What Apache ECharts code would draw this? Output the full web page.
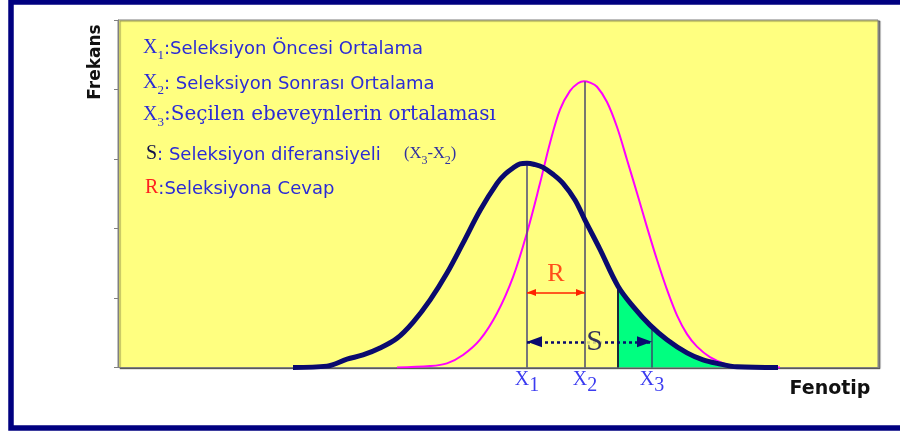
<!DOCTYPE html>
<html>
<head>
<meta charset="utf-8">
<script src="https://cdn.jsdelivr.net/npm/echarts@6/dist/echarts.min.js"></script>
<style>
html, body { margin: 0; padding: 0; background: #fff; }
#chart { width: 900px; height: 434px; }
</style>
</head>
<body>
<div id="chart"></div>
<script>
// secilim oncesi dagilim (lacivert egri)
var navyX = [17.5, 20.9, 22.9, 24.5, 26.2, 27.9, 29.5, 31.2, 32.9, 34.5, 36.2, 37.9, 38.7, 39.5, 40.2, 40.9,
             41.7, 42.5, 43.5, 44.5, 45.7, 46.7, 48.2, 50.0, 51.5, 53.2, 54.9, 56.9, 58.5, 59.9, 61.9, 66.0];
var navyY = [0, 0.02, 0.12, 0.18, 0.28, 0.42, 0.65, 0.97, 1.36, 1.79, 2.26, 2.65, 2.78, 2.87, 2.93, 2.94,
             2.92, 2.88, 2.78, 2.65, 2.41, 2.12, 1.70, 1.17, 0.88, 0.61, 0.40, 0.21, 0.11, 0.06, 0.01, 0];
// secilim sonrasi dagilim (pembe egri)
var pinkX = [27.9, 31.2, 32.9, 34.5, 36.2, 37.9, 39.5, 40.9, 42.2, 43.2, 44.2, 45.2, 46.0, 46.6,
             47.2, 47.9, 48.9, 49.9, 50.9, 51.9, 52.9, 53.9, 54.9, 55.9, 56.9, 57.9, 59.2, 60.9, 62.2, 66.2];
var pinkY = [0, 0.02, 0.06, 0.18, 0.40, 0.78, 1.30, 1.94, 2.65, 3.23, 3.71, 3.98, 4.09, 4.12,
             4.10, 4.04, 3.82, 3.46, 2.99, 2.51, 2.02, 1.55, 1.12, 0.75, 0.48, 0.30, 0.15, 0.04, 0.01, 0];
// ortalamalar X1, X2, X3
var markNames = ['1', '2', '3'];
var markX = [40.9, 46.7, 53.4];
var cutX = 50.0;     // secilen ebeveynler buradan baslar
var rLevel = 1.08;   // R okunun yuksekligi
var sLevel = 0.37;   // S okunun yuksekligi

var blue = '#2b2bd6';
var navy = '#0a0a6e';

function pairs(xs, ys) {
    var res = [];
    for (var i = 0; i < xs.length; i++) res.push([xs[i], ys[i]]);
    return res;
}
// egri uzerindeki yukseklik
function interp(xs, ys, x) {
    for (var i = 1; i < xs.length; i++) {
        if (x <= xs[i]) {
            var t = (x - xs[i - 1]) / (xs[i] - xs[i - 1]);
            return ys[i - 1] + t * (ys[i] - ys[i - 1]);
        }
    }
    return 0;
}

var greenData = [[cutX, interp(navyX, navyY, cutX)]];
for (var i = 0; i < navyX.length; i++) {
    if (navyX[i] > cutX) greenData.push([navyX[i], navyY[i]]);
}

var x1 = markX[0], x2 = markX[1], x3 = markX[2];
var vLines = [
    {x: x1, top: interp(navyX, navyY, x1), color: '#4a4a7a', width: 1.5},
    {x: x2, top: interp(pinkX, pinkY, x2), color: '#4a4a6a', width: 1.5},
    {x: cutX, top: interp(navyX, navyY, cutX), color: '#1a2a3a', width: 2},
    {x: x3, top: interp(navyX, navyY, x3), color: '#3a4a6a', width: 1.5}
];

var chart = echarts.init(document.getElementById('chart'));

var series = [
    {
        type: 'line', data: greenData, smooth: 0.35, symbol: 'none',
        lineStyle: {width: 0}, areaStyle: {color: '#00FF80', opacity: 1}, z: 1
    },
    {
        type: 'line', data: pairs(pinkX, pinkY), smooth: 0.35, symbol: 'none',
        lineStyle: {color: '#FF00FF', width: 2}, z: 2
    }
];
vLines.forEach(function (v) {
    series.push({
        type: 'line', data: [[v.x, 0], [v.x, v.top]], symbol: 'none',
        lineStyle: {color: v.color, width: v.width}, z: 3
    });
});
series.push({
    type: 'line', data: pairs(navyX, navyY), smooth: 0.35, symbol: 'none',
    lineStyle: {color: navy, width: 5}, z: 4
});
// R oku
series.push({
    type: 'line', data: [], z: 5,
    markLine: {
        silent: true, animation: false,
        label: {show: false},
        symbol: ['triangle', 'triangle'], symbolSize: [7, 9],
        symbolOffset: [[0, 4.5], [0, 4.5]],
        lineStyle: {color: '#ff2200', width: 1.5, type: 'solid'},
        data: [[{coord: [x1, rLevel]}, {coord: [x2, rLevel]}]]
    }
});
// S oku
series.push({
    type: 'line', data: [], z: 5,
    markLine: {
        silent: true, animation: false,
        label: {show: false},
        symbol: ['triangle', 'triangle'], symbolSize: [11, 15],
        symbolOffset: [[0, 7.5], [0, 7.5]],
        lineStyle: {color: navy, width: 2.5, type: [3, 3]},
        data: [[{coord: [x1, sLevel]}, {coord: [x3, sLevel]}]]
    }
});
// R ve S harfleri
series.push({
    type: 'scatter', symbolSize: 0, z: 6,
    data: [
        {value: [(x1 + x2) / 2, rLevel + 0.27], name: 'R',
         label: {color: '#ff2200', fontSize: 26}},
        {value: [(x1 + x3) / 2 + 0.5, sLevel], name: 'S',
         label: {color: '#000050', fontSize: 30, backgroundColor: '#FFFF80'}}
    ],
    label: {show: true, position: 'inside', formatter: '{b}', fontFamily: 'Liberation Serif'}
});

var subRich = {
    x: {fontFamily: 'Liberation Serif', fontSize: 20, color: '#3c3cf0', verticalAlign: 'bottom', padding: [0, 0, 6, 0]},
    s: {fontFamily: 'Liberation Serif', fontSize: 20, color: '#3c3cf0', verticalAlign: 'bottom'}
};

var legendRich = {
    x: {fontFamily: 'Liberation Serif', fontSize: 20, fill: blue, verticalAlign: 'bottom', padding: [0, 0, 4, 0]},
    s: {fontFamily: 'Liberation Serif', fontSize: 13, fill: blue, verticalAlign: 'bottom'},
    t: {fontFamily: 'DejaVu Sans', fontSize: 18, fill: blue, verticalAlign: 'bottom', padding: [0, 0, 4, 0]},
    u: {fontFamily: 'DejaVu Serif', fontSize: 20, fill: blue, verticalAlign: 'bottom', padding: [0, 0, 4, 0]},
    k: {fontFamily: 'Liberation Serif', fontSize: 20, fill: '#10104a', verticalAlign: 'bottom', padding: [0, 0, 4, 0]},
    r: {fontFamily: 'Liberation Serif', fontSize: 20, fill: '#ff2020', verticalAlign: 'bottom', padding: [0, 0, 4, 0]},
    p: {fontFamily: 'Liberation Serif', fontSize: 16.5, fill: '#3030a0', verticalAlign: 'bottom', padding: [0, 0, 4, 0]},
    q: {fontFamily: 'Liberation Serif', fontSize: 12, fill: '#3030a0', verticalAlign: 'bottom'}
};

function legendText(y, text, x) {
    return {
        type: 'text', x: x || 143, y: y, z: 10,
        style: {text: text, rich: legendRich, verticalAlign: 'middle'}
    };
}

var option = {
    animation: false,
    backgroundColor: '#ffffff',
    grid: {
        left: 118, top: 20, right: 22, bottom: 66.5,
        show: true, backgroundColor: '#FFFF80', borderColor: '#808080', borderWidth: 1,
        shadowColor: 'rgba(0,0,0,0.45)', shadowOffsetX: 2, shadowOffsetY: 1, shadowBlur: 1
    },
    xAxis: {
        type: 'value', min: 0, max: 76,
        axisLine: {lineStyle: {color: '#808080', width: 1}},
        axisTick: {show: false},
        splitLine: {show: false},
        axisLabel: {
            customValues: markX, margin: 2,
            formatter: function (v) {
                var idx = markX.indexOf(v);
                return '{x|X}{s|' + markNames[idx] + '}';
            },
            rich: subRich
        }
    },
    yAxis: {
        type: 'value', min: 0, max: 5, interval: 1,
        axisLine: {show: true, lineStyle: {color: '#808080', width: 1}},
        axisTick: {show: true, length: 4, lineStyle: {color: '#808080'}},
        axisLabel: {show: false},
        splitLine: {show: false}
    },
    series: series,
    graphic: [
        {
            type: 'rect', z: 20, silent: true,
            shape: {x: 11, y: 2, width: 900, height: 426},
            style: {fill: 'none', stroke: '#000080', lineWidth: 5.5}
        },
        {
            type: 'text', x: 96, y: 62, rotation: Math.PI / 2, z: 10,
            style: {text: 'Frekans', fontFamily: 'DejaVu Sans', fontWeight: 'bold', fontSize: 17,
                    fill: '#111', align: 'center', verticalAlign: 'middle'}
        },
        {
            type: 'text', x: 830, y: 389, z: 10,
            style: {text: 'Fenotip', fontFamily: 'DejaVu Sans', fontWeight: 'bold', fontSize: 19,
                    fill: '#111', align: 'center', verticalAlign: 'middle'}
        },
        legendText(50, '{x|X}{s|1}{t|:Seleksiyon Öncesi Ortalama}'),
        legendText(85, '{x|X}{s|2}{t|: Seleksiyon Sonrası Ortalama}'),
        legendText(117, '{x|X}{s|3}{u|:Seçilen ebeveynlerin ortalaması}'),
        legendText(156, '{k|S}{t|: Seleksiyon diferansiyeli}', 146),
        legendText(156, '{p|(X}{q|3}{p|-X}{q|2}{p|)}', 404),
        legendText(190, '{r|R}{t|:Seleksiyona Cevap}', 145)
    ]
};

chart.setOption(option);
</script>
</body>
</html>
